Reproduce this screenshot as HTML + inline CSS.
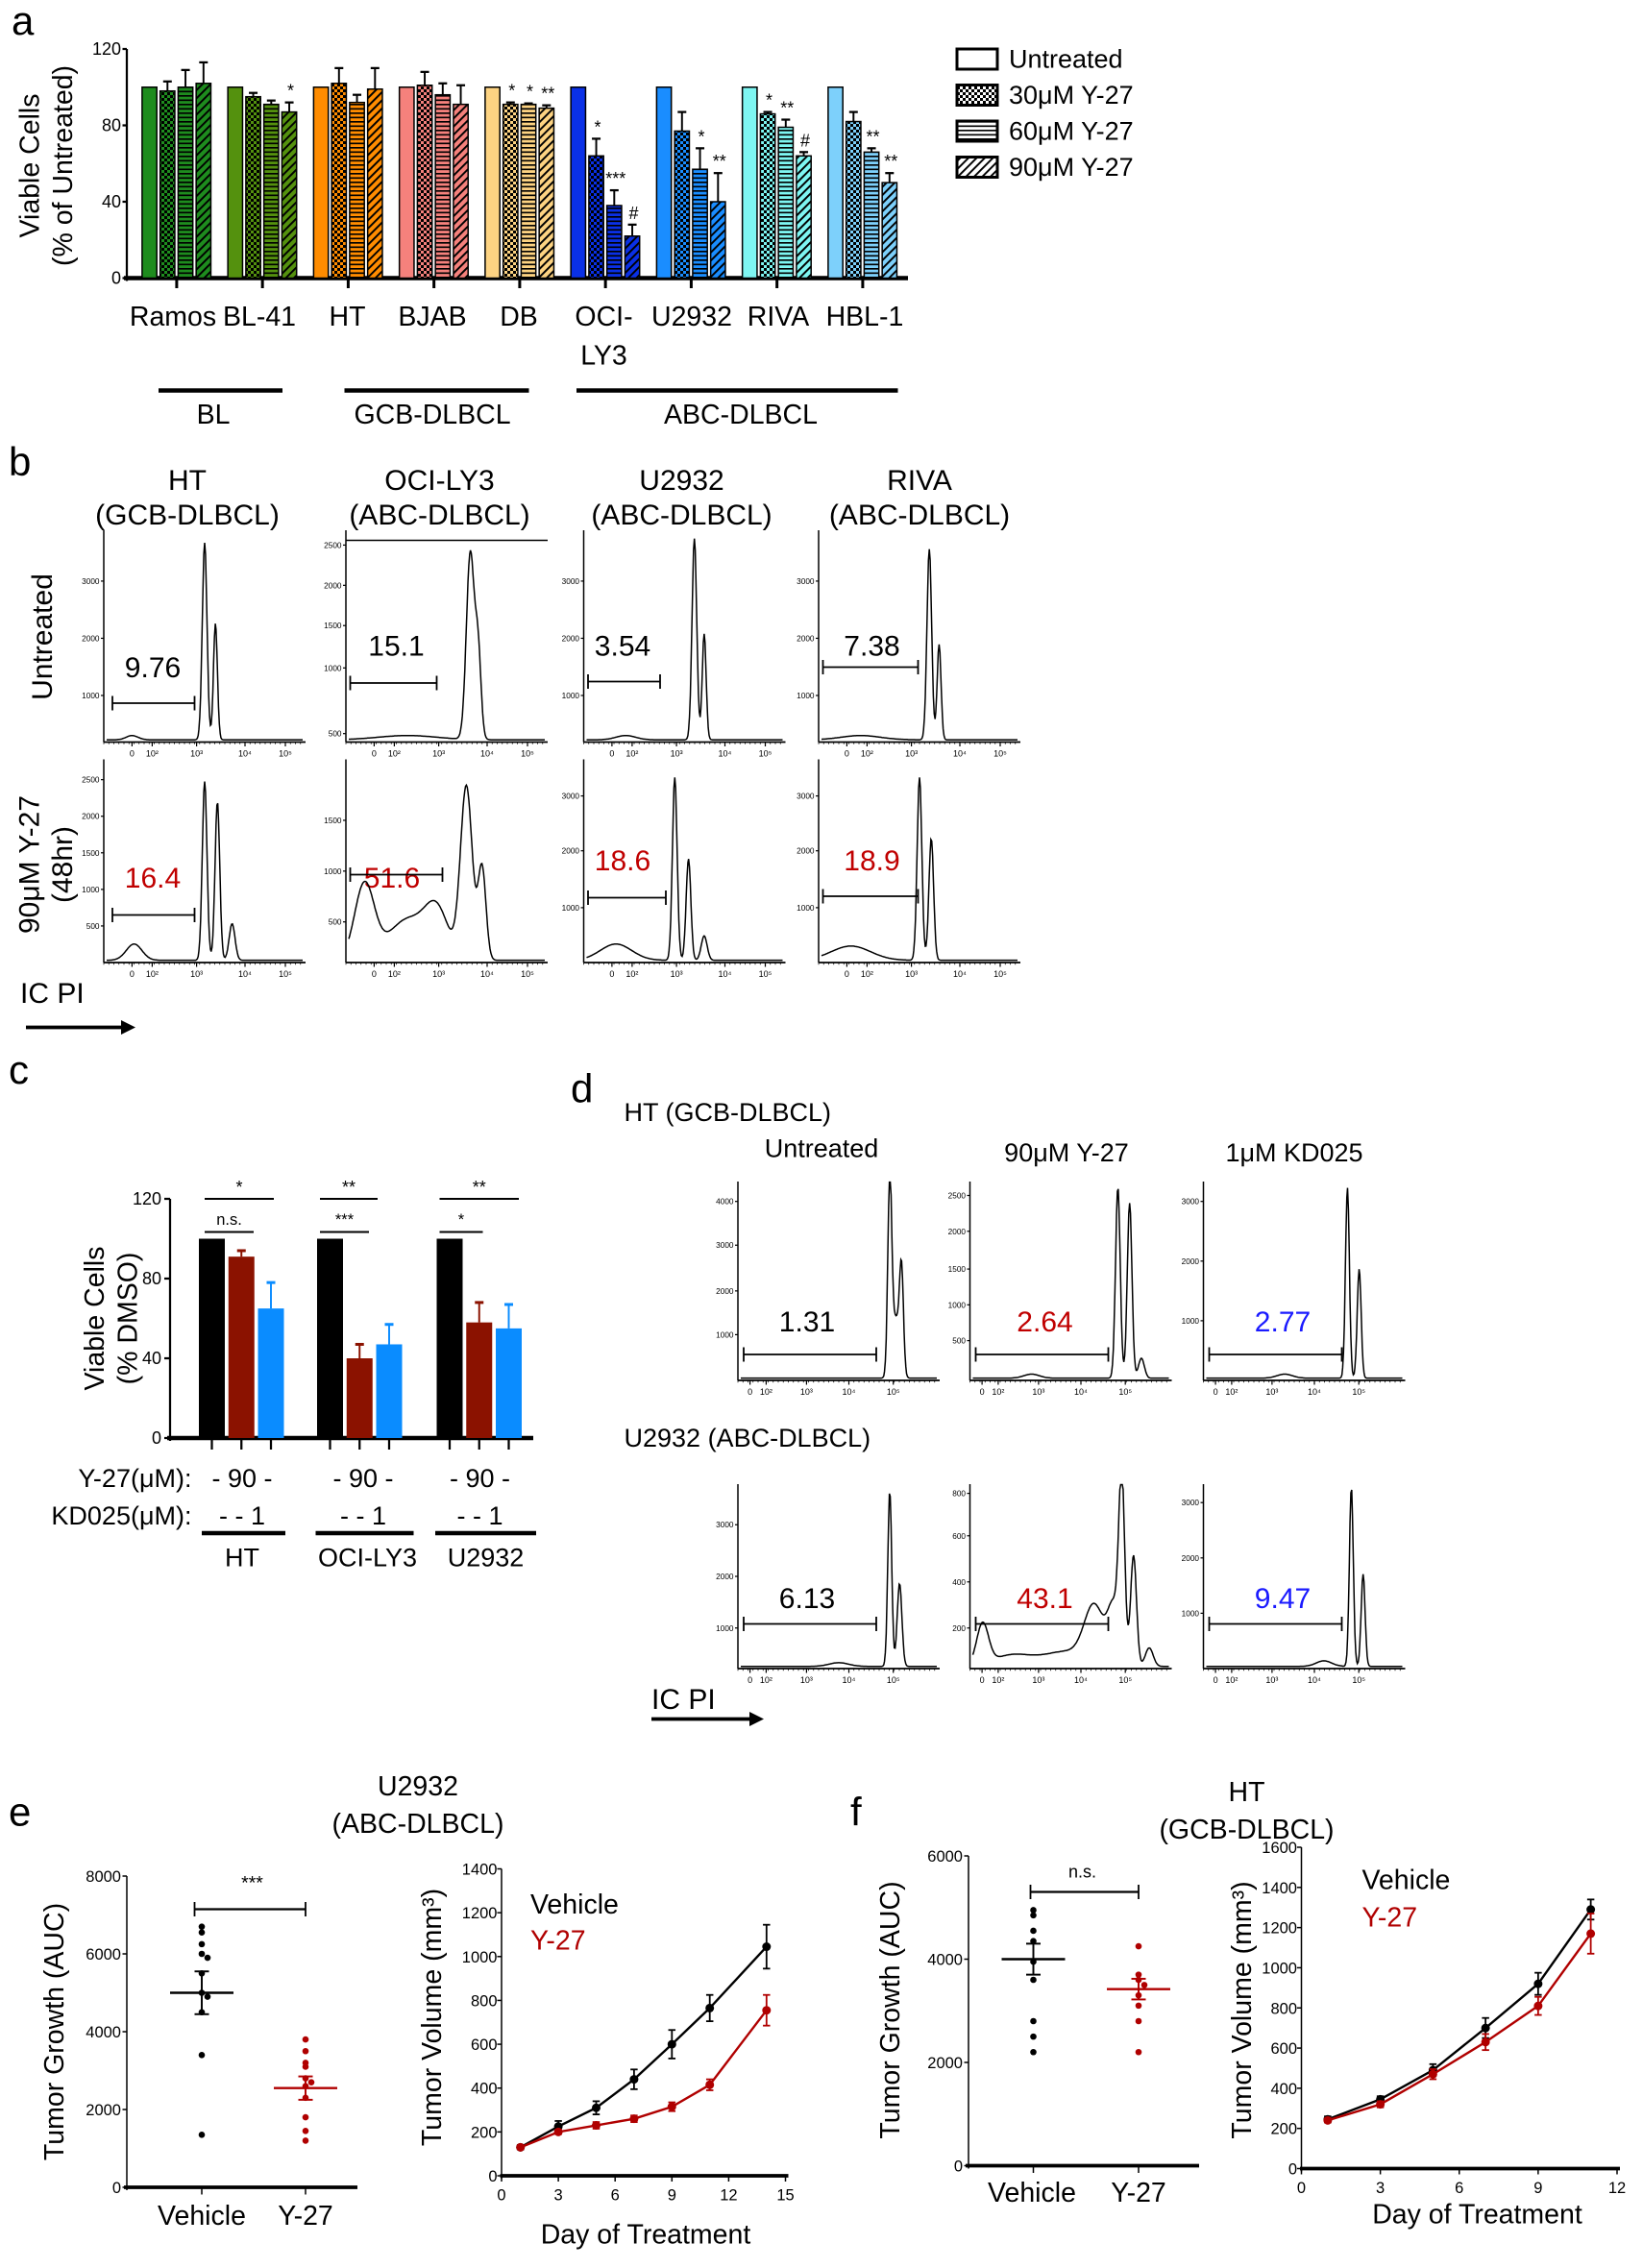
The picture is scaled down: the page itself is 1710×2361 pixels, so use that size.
<!DOCTYPE html>
<html><head><meta charset="utf-8"><style>
html,body{margin:0;padding:0;background:#fff}
svg{display:block}
text{font-family:"Liberation Sans",sans-serif;fill:#000}
</style></head><body>
<svg id="s" xmlns="http://www.w3.org/2000/svg" width="1710" height="2361" viewBox="0 0 1140 1574">
<defs>
<pattern id="chk" width="4" height="4" patternUnits="userSpaceOnUse"><rect x="0" y="0" width="2" height="2" fill="#000"/><rect x="2" y="2" width="2" height="2" fill="#000"/></pattern>
<pattern id="hs" width="4" height="3" patternUnits="userSpaceOnUse"><rect x="0" y="0" width="4" height="1.1" fill="#000"/></pattern>
<pattern id="dg" width="4" height="4" patternUnits="userSpaceOnUse" patternTransform="rotate(45)"><rect x="0" y="0" width="1.3" height="4" fill="#000"/></pattern>
</defs>
<rect width="1140" height="1574" fill="#fff"/>
<!-- Panel a -->
<text x="8" y="24" font-size="28">a</text>
<text transform="translate(27,115) rotate(-90)" font-size="19" text-anchor="middle">Viable Cells</text>
<text transform="translate(50,115) rotate(-90)" font-size="19" text-anchor="middle">(% of Untreated)</text>
<g font-size="19" text-anchor="middle">
<text x="120" y="226">Ramos</text><text x="180" y="226">BL-41</text><text x="241" y="226">HT</text><text x="300" y="226">BJAB</text><text x="360" y="226">DB</text><text x="419" y="226">OCI-</text><text x="419" y="253">LY3</text><text x="480" y="226">U2932</text><text x="540" y="226">RIVA</text><text x="600" y="226">HBL-1</text>
<text x="148" y="294">BL</text><text x="300" y="294">GCB-DLBCL</text><text x="514" y="294">ABC-DLBCL</text>
</g>
<g stroke="#000" stroke-width="3"><line x1="110" y1="271" x2="196" y2="271"/><line x1="239" y1="271" x2="367" y2="271"/><line x1="400" y1="271" x2="623" y2="271"/></g>
<g font-size="18"><text x="700" y="47">Untreated</text><text x="700" y="72">30μM Y-27</text><text x="700" y="97">60μM Y-27</text><text x="700" y="122">90μM Y-27</text></g>
<g stroke="#000" stroke-width="2"><rect x="664" y="34" width="28" height="14" fill="#fff"/><rect x="664" y="59" width="28" height="14" fill="url(#chk)"/><rect x="664" y="84" width="28" height="14" fill="url(#hs)"/><rect x="664" y="109" width="28" height="14" fill="url(#dg)"/></g>
<!-- Panel b -->
<text x="6" y="330" font-size="28">b</text>
<g font-size="20" text-anchor="middle">
<text x="130" y="340">HT</text><text x="130" y="364">(GCB-DLBCL)</text>
<text x="305" y="340">OCI-LY3</text><text x="305" y="364">(ABC-DLBCL)</text>
<text x="473" y="340">U2932</text><text x="473" y="364">(ABC-DLBCL)</text>
<text x="638" y="340">RIVA</text><text x="638" y="364">(ABC-DLBCL)</text>
<text transform="translate(36,442) rotate(-90)">Untreated</text>
<text transform="translate(27,600) rotate(-90)">90μM Y-27</text>
<text transform="translate(50,600) rotate(-90)">(48hr)</text>
</g>
<text x="14" y="696" font-size="20">IC PI</text>
<line x1="18" y1="713" x2="86" y2="713" stroke="#000" stroke-width="2.5"/><polygon points="84,708 94,713 84,718" fill="#000"/>
<g font-size="20" text-anchor="middle">
<text x="106" y="470">9.76</text><text x="275" y="455">15.1</text><text x="432" y="455">3.54</text><text x="605" y="455">7.38</text>
<text x="106" y="616" style="fill:#c00000">16.4</text><text x="272" y="616" style="fill:#c00000">51.6</text><text x="432" y="604" style="fill:#c00000">18.6</text><text x="605" y="604" style="fill:#c00000">18.9</text>
</g>
<!-- Panel c -->
<text x="6" y="752" font-size="28">c</text>
<text transform="translate(72,915) rotate(-90)" font-size="19" text-anchor="middle">Viable Cells</text>
<text transform="translate(95,915) rotate(-90)" font-size="19" text-anchor="middle">(% DMSO)</text>
<g font-size="18">
<text x="133" y="1032" text-anchor="end">Y-27(μM):</text><text x="133" y="1058" text-anchor="end">KD025(μM):</text>
<text x="168" y="1032" text-anchor="middle">- 90 -</text><text x="252" y="1032" text-anchor="middle">- 90 -</text><text x="333" y="1032" text-anchor="middle">- 90 -</text>
<text x="168" y="1058" text-anchor="middle">- - 1</text><text x="252" y="1058" text-anchor="middle">- - 1</text><text x="333" y="1058" text-anchor="middle">- - 1</text>
<text x="168" y="1087" text-anchor="middle">HT</text><text x="255" y="1087" text-anchor="middle">OCI-LY3</text><text x="337" y="1087" text-anchor="middle">U2932</text>
</g>
<g stroke="#000" stroke-width="3"><line x1="140" y1="1064" x2="198" y2="1064"/><line x1="219" y1="1064" x2="287" y2="1064"/><line x1="302" y1="1064" x2="372" y2="1064"/></g>
<!-- Panel d -->
<text x="396" y="765" font-size="28">d</text>
<g font-size="18">
<text x="433" y="778">HT (GCB-DLBCL)</text>
<text x="433" y="1004">U2932  (ABC-DLBCL)</text>
<text x="570" y="803" text-anchor="middle">Untreated</text><text x="740" y="806" text-anchor="middle">90μM  Y-27</text><text x="898" y="806" text-anchor="middle">1μM KD025</text>
</g>
<g font-size="20" text-anchor="middle">
<text x="560" y="924">1.31</text><text x="725" y="924" style="fill:#c00000">2.64</text><text x="890" y="924" style="fill:#1a1aff">2.77</text>
<text x="560" y="1116">6.13</text><text x="725" y="1116" style="fill:#c00000">43.1</text><text x="890" y="1116" style="fill:#1a1aff">9.47</text>
</g>
<text x="452" y="1186" font-size="20">IC PI</text>
<line x1="452" y1="1193" x2="522" y2="1193" stroke="#000" stroke-width="2.5"/><polygon points="520,1188 530,1193 520,1198" fill="#000"/>
<!-- Panel e -->
<text x="6" y="1267" font-size="28">e</text>
<g font-size="19" text-anchor="middle">
<text x="290" y="1246">U2932</text><text x="290" y="1272">(ABC-DLBCL)</text>
<text x="865" y="1250">HT</text><text x="865" y="1276">(GCB-DLBCL)</text>
<text transform="translate(44,1410) rotate(-90)">Tumor Growth (AUC)</text>
<text transform="translate(306,1400) rotate(-90)">Tumor Volume (mm³)</text>
<text transform="translate(624,1395) rotate(-90)">Tumor Growth (AUC)</text>
<text transform="translate(868,1395) rotate(-90)">Tumor Volume (mm³)</text>
<text x="140" y="1544">Vehicle</text><text x="212" y="1544">Y-27</text>
<text x="716" y="1528">Vehicle</text><text x="790" y="1528">Y-27</text>
<text x="448" y="1557">Day of Treatment</text><text x="1025" y="1543">Day of Treatment</text>
</g>
<g font-size="19"><text x="368" y="1328">Vehicle</text><text x="368" y="1353" style="fill:#b00000">Y-27</text><text x="945" y="1311">Vehicle</text><text x="945" y="1337" style="fill:#b00000">Y-27</text></g>
<text x="590" y="1267" font-size="28">f</text>
<text x="175" y="1311" font-size="13" text-anchor="middle">***</text>
<text x="751" y="1303" font-size="12" text-anchor="middle">n.s.</text>
<g id="g"></g>
</svg>
<script>
const NS='http://www.w3.org/2000/svg',G=document.getElementById('g');
function E(t,a){const e=document.createElementNS(NS,t);for(const k in a)e.setAttribute(k,a[k]);G.appendChild(e);return e;}
function L(x1,y1,x2,y2,w,c){return E('line',{x1,y1,x2,y2,stroke:c||'#000','stroke-width':w||1});}
function T(x,y,s,txt,o){const e=E('text',Object.assign({x,y,'font-size':s},o||{}));e.textContent=txt;return e;}
(function(){
const y=v=>193-v*159/120;
L(88,34,88,195,1.5);L(86,193,630,193,3);
[[0,'0'],[40,'40'],[80,'80'],[120,'120']].forEach(([v,s])=>{L(85,y(v),88,y(v),1.5);T(84,y(v)+4,12,s,{'text-anchor':'end'});});
const cols=['#1e8c1e','#54910e','#ff8c00','#f5817c','#fdd382','#0a30e6','#1a8dff','#7ef6f2','#7dd0fb'];
const vals=[[100,98,100,102],[100,95,91,87],[100,102,92,99],[100,101,96,91],[100,91,91,89],[100,64,38,22],[100,77,57,40],[100,86,79,64],[100,82,66,50]];
const errs=[[0,5,9,11],[0,2,2,5],[0,8,4,11],[0,7,6,10],[0,1,.5,1.5],[0,9,8,6],[0,10,11,15],[0,1,4,2],[0,5,2,5]];
const st=[[],[,,,'*'],[],[],[,'*','*','**'],[,'*','***','#'],[,,'*','**'],[,'*','**','#'],[,,'**','**']];
const pats=[null,'url(#chk)','url(#hs)','url(#dg)'];
for(let i=0;i<9;i++){const x0=98.6+i*59.5;L(x0+24,193,x0+24,200,2);
for(let j=0;j<4;j++){const x=x0+j*12.5,w=10.2,v=vals[i][j],t=y(v);
E('rect',{x,y:t,width:w,height:193-t,fill:cols[i]});
if(pats[j])E('rect',{x,y:t,width:w,height:193-t,fill:pats[j]});
E('rect',{x,y:t,width:w,height:193-t,fill:'none',stroke:'#000','stroke-width':1});
const e=errs[i][j];if(e){const te=y(v+e);L(x+w/2,t,x+w/2,te,1.3);L(x+w/2-3,te,x+w/2+3,te,1.5);}
if(st[i][j])T(x+w/2+1,y(v+e)-4,12,st[i][j],{'text-anchor':'middle'});}}
})();
function hist(x0,top,bot,w,peaks,ticks,xt){
L(x0,top,x0,bot,1);L(x0,bot,x0+w,bot,1.2);
const h=bot-top;let p='';
for(let i=0;i<=240;i++){const f=i/240;let v=0.004;peaks.forEach(([c,s,a])=>{v+=a*Math.exp(-((f-c)**2)/(2*s*s));});p+=(i?'L':'M')+(x0+2+f*(w-4)).toFixed(1)+','+(bot-1-Math.min(v,0.99)*h).toFixed(1);}
E('path',{d:p,fill:'none',stroke:'#000','stroke-width':1});
ticks.forEach(([f,s])=>{const yy=bot-f*h;L(x0-2,yy,x0,yy,0.8);T(x0-3,yy+2,5.5,s,{'text-anchor':'end'});});
xt.forEach(([f,s])=>{const xx=x0+f*w;L(xx,bot,xx,bot+3,0.8);T(xx,bot+10,6,s,{'text-anchor':'middle'});});
for(let k=0;k<40;k++){const xx=x0+k*w/40;L(xx,bot,xx,bot+1.5,0.5);}
}
function gate(x1,x2,y){L(x1,y,x2,y,1.2);L(x1,y-5,x1,y+5,1.2);L(x2,y-5,x2,y+5,1.2);}
const xb=[[.14,'0'],[.24,'10²'],[.46,'10³'],[.7,'10⁴'],[.9,'10⁵']];
const bx=[72,240,405,568];
const r1=[[[.5,.012,.93],[.555,.01,.55],[.13,.03,.02]],[[.62,.02,.88],[.66,.015,.4],[.3,.15,.02]],[[.55,.012,.95],[.6,.01,.5],[.2,.05,.02]],[[.55,.012,.9],[.6,.01,.45],[.2,.1,.02]]];
const r2=[[[.5,.012,.88],[.565,.012,.78],[.64,.015,.18],[.14,.04,.08]],[[.08,.05,.37],[.3,.1,.2],[.45,.06,.22],[.6,.03,.85],[.68,.02,.45]],[[.45,.012,.9],[.52,.012,.5],[.6,.015,.12],[.15,.08,.08]],[[.5,.012,.9],[.56,.012,.6],[.15,.1,.07]]];
const tk1=[[[.22,'1000'],[.49,'2000'],[.76,'3000']],[[.04,'500'],[.35,'1000'],[.55,'1500'],[.74,'2000'],[.93,'2500']],[[.22,'1000'],[.49,'2000'],[.76,'3000']],[[.22,'1000'],[.49,'2000'],[.76,'3000']]];
const tk2=[[[.18,'500'],[.36,'1000'],[.54,'1500'],[.72,'2000'],[.9,'2500']],[[.2,'500'],[.45,'1000'],[.7,'1500']],[[.27,'1000'],[.55,'2000'],[.82,'3000']],[[.27,'1000'],[.55,'2000'],[.82,'3000']]];
for(let c=0;c<4;c++){hist(bx[c],368,515,140,r1[c],tk1[c],xb);hist(bx[c],527,668,140,r2[c],tk2[c],xb);}
L(240,375,380,375,1);
gate(78,135,488);gate(243,303,474);gate(408,458,473);gate(571,637,463);
gate(78,135,635);gate(243,307,607);gate(408,462,623);gate(571,637,622);
const dx=[512,673,835];const xd=[[.06,'0'],[.14,'10²'],[.34,'10³'],[.55,'10⁴'],[.77,'10⁵']];
const d1=[[[.76,.01,.96],[.82,.01,.5],[.79,.02,.3]],[[.74,.012,.96],[.8,.012,.88],[.86,.015,.1],[.3,.04,.02]],[[.72,.01,.96],[.78,.01,.55],[.4,.04,.02]]];
const d2=[[[.76,.01,.95],[.81,.012,.45],[.5,.05,.02]],[[.05,.03,.22],[.2,.1,.06],[.48,.12,.08],[.62,.05,.3],[.72,.03,.3],[.76,.015,.95],[.82,.015,.6],[.9,.02,.1]],[[.74,.01,.97],[.8,.01,.5],[.6,.04,.03]]];
const dt1=[[[.23,'1000'],[.45,'2000'],[.68,'3000'],[.9,'4000']],[[.2,'500'],[.38,'1000'],[.56,'1500'],[.75,'2000'],[.93,'2500']],[[.3,'1000'],[.6,'2000'],[.9,'3000']]];
const dt2=[[[.22,'1000'],[.5,'2000'],[.78,'3000']],[[.22,'200'],[.47,'400'],[.72,'600'],[.95,'800']],[[.3,'1000'],[.6,'2000'],[.9,'3000']]];
for(let c=0;c<3;c++){hist(dx[c],820,958,140,d1[c],dt1[c],xd);hist(dx[c],1030,1158,140,d2[c],dt2[c],xd);
gate(dx[c]+4,dx[c]+96,940);gate(dx[c]+4,dx[c]+96,1127);}
(function(){const y=v=>998-v*166/120;
L(118,832,118,1000,1.5);L(116,998,370,998,3);
[[0,'0'],[40,'40'],[80,'80'],[120,'120']].forEach(([v,s])=>{L(114,y(v),118,y(v),1.5);T(112,y(v)+4,12,s,{'text-anchor':'end'});});
const g=[[138,[100,91,65],[0,3,13]],[220,[100,40,47],[0,7,10]],[303,[100,58,55],[0,10,12]]];const cc=['#000','#8b1200','#0a8cff'];
g.forEach(([x0,v,e])=>{for(let j=0;j<3;j++){const x=x0+j*20.5,t=y(v[j]);E('rect',{x,y:t,width:18,height:998-t,fill:cc[j]});L(x+9,998,x+9,1006,1.5);
if(e[j]){const te=y(v[j]+e[j]);L(x+9,t,x+9,te,1.3,cc[j]);L(x+6,te,x+12,te,2,cc[j]);}}});
[[142,190,832,'*'],[222,262,832,'**'],[305,360,832,'**']].forEach(([a,b,yy,s])=>{L(a,yy,b,yy,1.3);T((a+b)/2,yy-4,12,s,{'text-anchor':'middle'});});
[[142,176,855,'n.s.'],[222,256,855,'***'],[305,335,855,'*']].forEach(([a,b,yy,s])=>{L(a,yy,b,yy,1.3);T((a+b)/2,yy-5,11,s,{'text-anchor':'middle'});});
})();
function scatter(ax,top,bot,max,ticks,xv,xy,vv,vy,mv,my,sv,sy){
const y=v=>bot-v*(bot-top)/max;
L(ax,top,ax,bot+2,1);L(ax-2,bot,ax+160,bot,2.5);
ticks.forEach(v=>{L(ax-3,y(v),ax,y(v),1);T(ax-4,y(v)+4,11,String(v),{'text-anchor':'end'});});
L(xv,bot,xv,bot+5,1);L(xy,bot,xy,bot+5,1);
[[xv,vv,'#000',mv,sv],[xy,vy,'#b00000',my,sy]].forEach(([x,pts,c,m,s])=>{
const cnt={};pts.forEach(v=>{const k=Math.round(v/250);cnt[k]=(cnt[k]||0)+1;const off=(cnt[k]-1)%2?4:(cnt[k]>1?-4:0);E('circle',{cx:x+off,cy:y(v),r:2.2,fill:c});});
L(x-22,y(m),x+22,y(m),1.6,c);L(x,y(m-s),x,y(m+s),1.3,c);L(x-5,y(m-s),x+5,y(m-s),1.3,c);L(x-5,y(m+s),x+5,y(m+s),1.3,c);});
}
scatter(88,1302,1518,8000,[0,2000,4000,6000,8000],140,212,[6700,6550,6250,6000,5900,5500,5000,4900,4500,3400,1350],[3800,3500,3200,3100,2800,2700,2600,2300,1800,1450,1200],5000,2550,550,300);
L(135,1325,212,1325,1.5);L(135,1320,135,1330,1.2);L(212,1320,212,1330,1.2);
scatter(672,1288,1503,6000,[0,2000,4000,6000],717,790,[4950,4850,4550,4350,3950,3600,2800,2500,2200],[4250,3700,3600,3500,3300,3100,2800,2200],4000,3420,300,200);
L(715,1313,790,1313,1.5);L(715,1308,715,1318,1.2);L(790,1308,790,1318,1.2);
function lp(x0,x1,xmax,xt,top,bot,ymax,yt,d,a,ae,b,be){
const X=v=>x0+v*(x1-x0)/xmax,Y=v=>bot-v*(bot-top)/ymax;
L(x0,top,x0,bot+2,1);L(x0-1,bot,x1+2,bot,2.5);
yt.forEach(v=>{L(x0-3,Y(v),x0,Y(v),1);T(x0-3,Y(v)+4,11,String(v),{'text-anchor':'end'});});
xt.forEach(v=>{L(X(v),bot,X(v),bot+4,1);T(X(v),bot+17,11,String(v),{'text-anchor':'middle'});});
[[a,ae,'#000'],[b,be,'#b00000']].forEach(([s,e,c])=>{E('polyline',{points:d.map((t,i)=>X(t)+','+Y(s[i])).join(' '),fill:'none',stroke:c,'stroke-width':1.6});
d.forEach((t,i)=>{E('circle',{cx:X(t),cy:Y(s[i]),r:3,fill:c});if(e[i]){L(X(t),Y(s[i]-e[i]),X(t),Y(s[i]+e[i]),1.2,c);L(X(t)-2.5,Y(s[i]+e[i]),X(t)+2.5,Y(s[i]+e[i]),1.2,c);L(X(t)-2.5,Y(s[i]-e[i]),X(t)+2.5,Y(s[i]-e[i]),1.2,c);}});});
}
lp(348,545,15,[0,3,6,9,12,15],1297,1510,1400,[0,200,400,600,800,1000,1200,1400],[1,3,5,7,9,11,14],[130,225,310,440,600,765,1045],[10,25,30,45,65,60,100],[130,200,230,260,315,415,755],[8,10,15,15,20,25,70]);
lp(903,1122,12,[0,3,6,9,12],1282,1505,1600,[0,200,400,600,800,1000,1200,1400,1600],[1,3,5,7,9,11],[245,345,490,700,920,1290],[15,15,30,50,55,50],[240,320,470,630,810,1170],[10,15,25,40,45,100]);
</script>
</body></html>
